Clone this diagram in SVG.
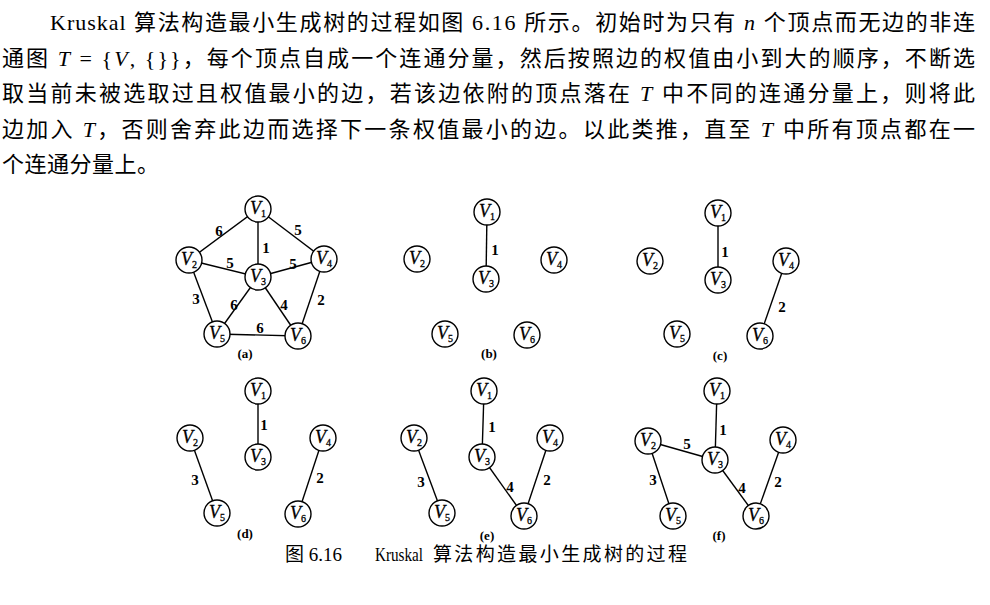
<svg xmlns="http://www.w3.org/2000/svg" width="990" height="605" viewBox="0 0 990 605">
<style>
.p{font-family:"Liberation Serif","DejaVu Serif","Noto Sans CJK SC",serif;font-size:22px;fill:#000}
.it{font-style:italic}
.cap{font-family:"Liberation Serif","DejaVu Serif","Noto Sans CJK SC",serif;font-size:19px;fill:#000}
.e{stroke:#000;stroke-width:1.4;fill:none}
.n circle{fill:#fff;stroke:#000;stroke-width:1.4}
.vl{font-family:"Liberation Serif","DejaVu Serif",serif;font-style:italic;font-size:18px;text-anchor:middle;fill:#000;stroke:#000;stroke-width:0.3}
.sub{font-size:10px;font-style:normal}
.w{font-family:"Liberation Serif","DejaVu Serif",serif;font-size:15px;font-weight:bold;text-anchor:middle;fill:#000}
.sl{font-family:"Liberation Serif","DejaVu Serif",serif;font-size:13px;font-weight:bold;text-anchor:middle;fill:#000}
</style>
<rect width="990" height="605" fill="#fff"/>
<g id="paragraph">
<text class="p" x="50" y="30" letter-spacing="1">Kruskal</text>
<text class="p" x="134" y="30" textLength="841" lengthAdjust="spacing">算法构造最小生成树的过程如图 6.16 所示。初始时为只有 <tspan class="it">n</tspan> 个顶点而无边的非连</text>
<text class="p" x="2" y="66" textLength="973" lengthAdjust="spacing">通图 <tspan class="it">T</tspan> = {<tspan class="it">V</tspan>, {}}，每个顶点自成一个连通分量，然后按照边的权值由小到大的顺序，不断选</text>
<text class="p" x="2" y="101" textLength="973" lengthAdjust="spacing">取当前未被选取过且权值最小的边，若该边依附的顶点落在 <tspan class="it">T</tspan> 中不同的连通分量上，则将此</text>
<text class="p" x="2" y="137" textLength="973" lengthAdjust="spacing">边加入 <tspan class="it">T</tspan>，否则舍弃此边而选择下一条权值最小的边。以此类推，直至 <tspan class="it">T</tspan> 中所有顶点都在一</text>
<text class="p" x="2" y="172" letter-spacing="0.5">个连通分量上。</text>
</g>

<!-- (a) -->
<g id="a-edges">
<line class="e" x1="258" y1="209" x2="189" y2="260"/>
<line class="e" x1="258" y1="209" x2="258" y2="277"/>
<line class="e" x1="258" y1="209" x2="324" y2="259"/>
<line class="e" x1="189" y1="260" x2="258" y2="277"/>
<line class="e" x1="258" y1="277" x2="324" y2="259"/>
<line class="e" x1="189" y1="260" x2="217" y2="334"/>
<line class="e" x1="258" y1="277" x2="217" y2="334"/>
<line class="e" x1="258" y1="277" x2="298" y2="336"/>
<line class="e" x1="324" y1="259" x2="298" y2="336"/>
<line class="e" x1="217" y1="334" x2="298" y2="336"/>
<text class="w" x="219" y="236">6</text>
<text class="w" x="298" y="235">5</text>
<text class="w" x="266" y="253">1</text>
<text class="w" x="230" y="268">5</text>
<text class="w" x="293" y="269">5</text>
<text class="w" x="196" y="304">3</text>
<text class="w" x="234" y="310">6</text>
<text class="w" x="284" y="310">4</text>
<text class="w" x="321" y="305">2</text>
<text class="w" x="260" y="333">6</text>
</g>
<g id="a-v1" class="n"><circle cx="258" cy="209" r="13"/><text class="vl" x="258" y="214">V<tspan class="sub" dy="3">1</tspan></text></g>
<g id="a-v2" class="n"><circle cx="189" cy="260" r="13"/><text class="vl" x="189" y="265">V<tspan class="sub" dy="3">2</tspan></text></g>
<g id="a-v3" class="n"><circle cx="258" cy="277" r="13"/><text class="vl" x="258" y="282">V<tspan class="sub" dy="3">3</tspan></text></g>
<g id="a-v4" class="n"><circle cx="324" cy="259" r="13"/><text class="vl" x="324" y="264">V<tspan class="sub" dy="3">4</tspan></text></g>
<g id="a-v5" class="n"><circle cx="217" cy="334" r="13"/><text class="vl" x="217" y="339">V<tspan class="sub" dy="3">5</tspan></text></g>
<g id="a-v6" class="n"><circle cx="298" cy="336" r="13"/><text class="vl" x="298" y="341">V<tspan class="sub" dy="3">6</tspan></text></g>
<text class="sl" x="245" y="358">(a)</text>

<!-- (b) -->
<g id="b-edges">
<line class="e" x1="487" y1="212" x2="486" y2="279"/>
<text class="w" x="495" y="255">1</text>
</g>
<g id="b-v1" class="n"><circle cx="487" cy="212" r="13"/><text class="vl" x="487" y="217">V<tspan class="sub" dy="3">1</tspan></text></g>
<g id="b-v2" class="n"><circle cx="417" cy="259" r="13"/><text class="vl" x="417" y="264">V<tspan class="sub" dy="3">2</tspan></text></g>
<g id="b-v3" class="n"><circle cx="486" cy="279" r="13"/><text class="vl" x="486" y="284">V<tspan class="sub" dy="3">3</tspan></text></g>
<g id="b-v4" class="n"><circle cx="554" cy="260" r="13"/><text class="vl" x="554" y="265">V<tspan class="sub" dy="3">4</tspan></text></g>
<g id="b-v5" class="n"><circle cx="445" cy="334" r="13"/><text class="vl" x="445" y="339">V<tspan class="sub" dy="3">5</tspan></text></g>
<g id="b-v6" class="n"><circle cx="527" cy="335" r="13"/><text class="vl" x="527" y="340">V<tspan class="sub" dy="3">6</tspan></text></g>
<text class="sl" x="489" y="358">(b)</text>

<!-- (c) -->
<g id="c-edges">
<line class="e" x1="718" y1="213" x2="718" y2="280"/>
<line class="e" x1="786" y1="261" x2="760" y2="336"/>
<text class="w" x="725" y="257">1</text>
<text class="w" x="782" y="312">2</text>
</g>
<g id="c-v1" class="n"><circle cx="718" cy="213" r="13"/><text class="vl" x="718" y="218">V<tspan class="sub" dy="3">1</tspan></text></g>
<g id="c-v2" class="n"><circle cx="650" cy="261" r="13"/><text class="vl" x="650" y="266">V<tspan class="sub" dy="3">2</tspan></text></g>
<g id="c-v3" class="n"><circle cx="718" cy="280" r="13"/><text class="vl" x="718" y="285">V<tspan class="sub" dy="3">3</tspan></text></g>
<g id="c-v4" class="n"><circle cx="786" cy="261" r="13"/><text class="vl" x="786" y="266">V<tspan class="sub" dy="3">4</tspan></text></g>
<g id="c-v5" class="n"><circle cx="677" cy="334" r="13"/><text class="vl" x="677" y="339">V<tspan class="sub" dy="3">5</tspan></text></g>
<g id="c-v6" class="n"><circle cx="760" cy="336" r="13"/><text class="vl" x="760" y="341">V<tspan class="sub" dy="3">6</tspan></text></g>
<text class="sl" x="720" y="360">(c)</text>

<!-- (d) -->
<g id="d-edges">
<line class="e" x1="258" y1="391" x2="258" y2="457"/>
<line class="e" x1="190" y1="438" x2="217" y2="513"/>
<line class="e" x1="323" y1="438" x2="298" y2="514"/>
<text class="w" x="264" y="430">1</text>
<text class="w" x="195" y="485">3</text>
<text class="w" x="320" y="483">2</text>
</g>
<g id="d-v1" class="n"><circle cx="258" cy="391" r="13"/><text class="vl" x="258" y="396">V<tspan class="sub" dy="3">1</tspan></text></g>
<g id="d-v2" class="n"><circle cx="190" cy="438" r="13"/><text class="vl" x="190" y="443">V<tspan class="sub" dy="3">2</tspan></text></g>
<g id="d-v3" class="n"><circle cx="258" cy="457" r="13"/><text class="vl" x="258" y="462">V<tspan class="sub" dy="3">3</tspan></text></g>
<g id="d-v4" class="n"><circle cx="323" cy="438" r="13"/><text class="vl" x="323" y="443">V<tspan class="sub" dy="3">4</tspan></text></g>
<g id="d-v5" class="n"><circle cx="217" cy="513" r="13"/><text class="vl" x="217" y="518">V<tspan class="sub" dy="3">5</tspan></text></g>
<g id="d-v6" class="n"><circle cx="298" cy="514" r="13"/><text class="vl" x="298" y="519">V<tspan class="sub" dy="3">6</tspan></text></g>
<text class="sl" x="245" y="538">(d)</text>

<!-- (e) -->
<g id="e-edges">
<line class="e" x1="484" y1="391" x2="482" y2="457"/>
<line class="e" x1="414" y1="438" x2="442" y2="513"/>
<line class="e" x1="482" y1="457" x2="524" y2="516"/>
<line class="e" x1="550" y1="438" x2="524" y2="516"/>
<text class="w" x="492" y="432">1</text>
<text class="w" x="421" y="487">3</text>
<text class="w" x="510" y="492">4</text>
<text class="w" x="547" y="485">2</text>
</g>
<g id="e-v1" class="n"><circle cx="484" cy="391" r="13"/><text class="vl" x="484" y="396">V<tspan class="sub" dy="3">1</tspan></text></g>
<g id="e-v2" class="n"><circle cx="414" cy="438" r="13"/><text class="vl" x="414" y="443">V<tspan class="sub" dy="3">2</tspan></text></g>
<g id="e-v3" class="n"><circle cx="482" cy="457" r="13"/><text class="vl" x="482" y="462">V<tspan class="sub" dy="3">3</tspan></text></g>
<g id="e-v4" class="n"><circle cx="550" cy="438" r="13"/><text class="vl" x="550" y="443">V<tspan class="sub" dy="3">4</tspan></text></g>
<g id="e-v5" class="n"><circle cx="442" cy="513" r="13"/><text class="vl" x="442" y="518">V<tspan class="sub" dy="3">5</tspan></text></g>
<g id="e-v6" class="n"><circle cx="524" cy="516" r="13"/><text class="vl" x="524" y="521">V<tspan class="sub" dy="3">6</tspan></text></g>
<text class="sl" x="487" y="540">(e)</text>

<!-- (f) -->
<g id="f-edges">
<line class="e" x1="717" y1="391" x2="715" y2="460"/>
<line class="e" x1="648" y1="441" x2="715" y2="460"/>
<line class="e" x1="648" y1="441" x2="673" y2="516"/>
<line class="e" x1="715" y1="460" x2="756" y2="516"/>
<line class="e" x1="783" y1="440" x2="756" y2="516"/>
<text class="w" x="723" y="435">1</text>
<text class="w" x="687" y="449">5</text>
<text class="w" x="653" y="485">3</text>
<text class="w" x="742" y="493">4</text>
<text class="w" x="778" y="487">2</text>
</g>
<g id="f-v1" class="n"><circle cx="717" cy="391" r="13"/><text class="vl" x="717" y="396">V<tspan class="sub" dy="3">1</tspan></text></g>
<g id="f-v2" class="n"><circle cx="648" cy="441" r="13"/><text class="vl" x="648" y="446">V<tspan class="sub" dy="3">2</tspan></text></g>
<g id="f-v3" class="n"><circle cx="715" cy="460" r="13"/><text class="vl" x="715" y="465">V<tspan class="sub" dy="3">3</tspan></text></g>
<g id="f-v4" class="n"><circle cx="783" cy="440" r="13"/><text class="vl" x="783" y="445">V<tspan class="sub" dy="3">4</tspan></text></g>
<g id="f-v5" class="n"><circle cx="673" cy="516" r="13"/><text class="vl" x="673" y="521">V<tspan class="sub" dy="3">5</tspan></text></g>
<g id="f-v6" class="n"><circle cx="756" cy="516" r="13"/><text class="vl" x="756" y="521">V<tspan class="sub" dy="3">6</tspan></text></g>
<text class="sl" x="719" y="540">(f)</text>

<g id="caption">
<text class="cap" x="285" y="561">图 6.16</text>
<text class="cap" x="375" y="561" font-size="16" textLength="48" lengthAdjust="spacingAndGlyphs">Kruskal</text>
<text class="cap" x="433" y="561" font-size="20" textLength="254" lengthAdjust="spacing">算法构造最小生成树的过程</text>
</g>
</svg>
